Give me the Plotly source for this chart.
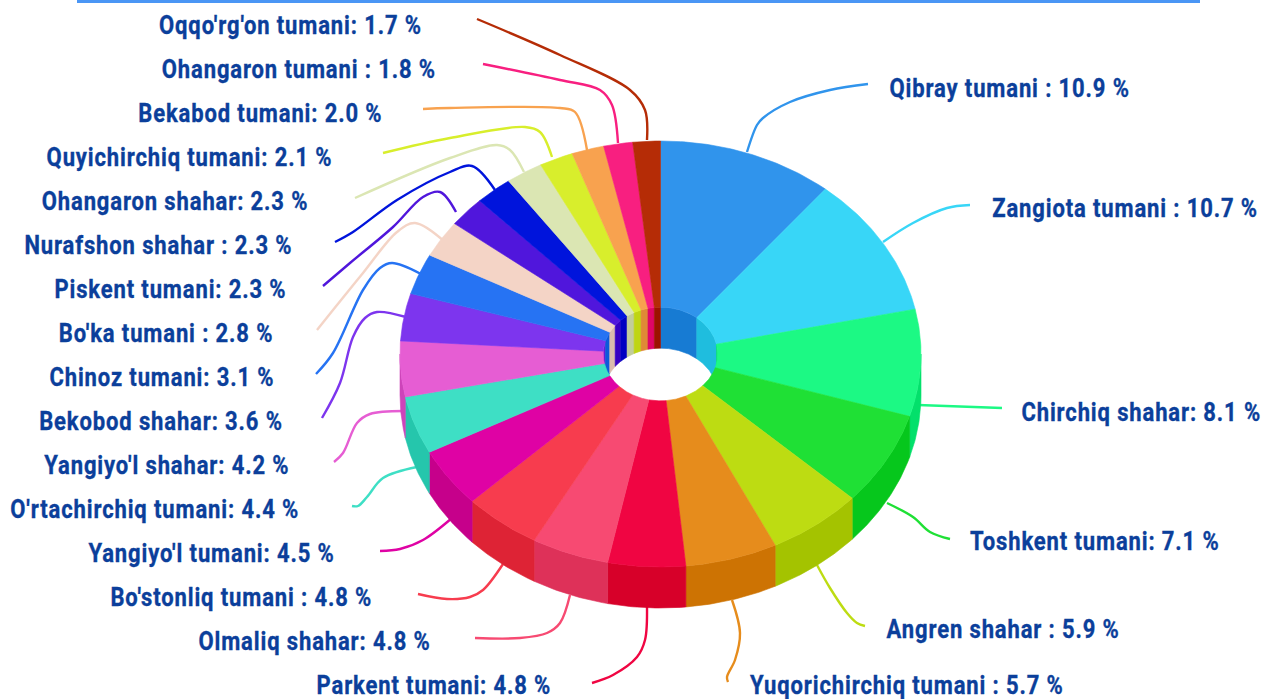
import numpy as np
import plotly.graph_objects as go

names = ["Qibray tumani :", "Zangiota tumani :", "Chirchiq shahar:", "Toshkent tumani:", "Angren shahar :",
         "Yuqorichirchiq tumani :", "Parkent tumani:", "Olmaliq shahar:", "Bo'stonliq tumani :", "Yangiyo'l tumani:",
         "O'rtachirchiq tumani:", "Yangiyo'l shahar:", "Bekobod shahar:", "Chinoz tumani:", "Bo'ka tumani :",
         "Piskent tumani:", "Nurafshon shahar :", "Ohangaron shahar:", "Quyichirchiq tumani:", "Bekabod tumani:",
         "Ohangaron tumani :", "Oqqo'rg'on tumani:"]
values = [10.9, 10.7, 8.1, 7.1, 5.9, 5.7, 4.8, 4.8, 4.8, 4.5, 4.4, 4.2, 3.6, 3.1, 2.8, 2.3, 2.3, 2.3, 2.1, 2.0, 1.8, 1.7]
colors = ["#3094EC", "#38D6F7", "#1CF984", "#1FE035", "#BDDC12", "#E68C1C", "#F00542", "#F74A72", "#F73C4E", "#DF02A4",
          "#3EDFC5", "#E65DD3", "#7D35EE", "#2673F3", "#F4D4C6", "#5016DC", "#0014DC", "#DBE6B3", "#D8EE2C", "#F8A24F",
          "#F81F80", "#B52C06"]
label_left = [889, 992, 1021, 970, 886, 750, 316, 198, 110, 88, 10, 44, 39, 49, 58, 54, 24, 41, 46, 138, 161, 159]
label_right = [1129, 1258, 1261, 1219, 1120, 1063, 551, 431, 372, 334, 299, 289, 283, 274, 273, 286, 292, 308, 333, 382, 436, 422]
label_y = [88, 208, 412, 541, 629, 685, 685, 641, 597, 553, 509, 465, 421, 377, 333, 289, 245, 201, 157, 113, 69, 25]

leaders = [
    [(747, 152), (757, 125), (763, 118), (790, 102), (830, 90), (868, 84)],
    [(883, 242), (913, 223), (947, 208), (970, 205)],
    [(918, 405), (1002, 408)],
    [(887, 503), (913, 517), (930, 532), (950, 539)],
    [(817, 565), (830, 588), (847, 613), (857, 623), (865, 626)],
    [(732, 600), (740, 633), (735, 660), (727, 677), (728, 682)],
    [(647, 606), (645, 640), (637, 657), (613, 675), (592, 683)],
    [(570, 595), (560, 623), (547, 633), (520, 638), (475, 638)],
    [(503, 564), (483, 590), (470, 597), (447, 599), (418, 594)],
    [(452, 518), (423, 540), (400, 549), (380, 551)],
    [(417, 467), (383, 478), (367, 497), (358, 506), (352, 506)],
    [(404, 411), (370, 414), (357, 423), (343, 453), (334, 462)],
    [(406, 317), (377, 312), (365, 318), (353, 337), (340, 383), (322, 418)],
    [(421, 274), (392, 263), (380, 268), (363, 290), (333, 353), (316, 374)],
    [(445, 242), (415, 223), (397, 232), (363, 273), (333, 310), (317, 330)],
    [(456, 212), (440, 192), (423, 197), (393, 227), (350, 263), (323, 286)],
    [(495, 190), (472, 166), (450, 172), (397, 200), (353, 232), (335, 242)],
    [(524, 172), (510, 150), (497, 145), (450, 158), (355, 198)],
    [(552, 157), (540, 132), (525, 127), (450, 138), (383, 153)],
    [(587, 150), (575, 112), (560, 108), (450, 108), (423, 109)],
    [(618, 143), (612, 105), (600, 90), (560, 80), (483, 64)],
    [(647, 140), (645, 110), (630, 90), (560, 55), (477, 19)],
]

CX, CY, RX, RY, DEPTH, HOLE = 660.5, 354, 260.5, 213, 41, 0.22


def darker(c, d=25):
    r, g, b = [int(c[i:i + 2], 16) for i in (1, 3, 5)]
    return "#%02X%02X%02X" % (max(r - d, 0), max(g - d, 0), max(b - d, 0))


def arc(a0, a1, scale=1.0, dy=0.0):
    t = np.linspace(a0, a1, max(int(abs(a1 - a0) * 90) + 2, 3))
    return CX + RX * scale * np.sin(t), CY - RY * scale * np.cos(t) + dy


def band(xa, ya, xb, yb):
    return np.r_[xa, xb[::-1], xa[0]], np.r_[ya, yb[::-1], ya[0]]


fig = go.Figure()


def poly(x, y, c):
    fig.add_trace(go.Scatter(x=x, y=y, mode="lines", fill="toself", fillcolor=c,
                             line=dict(color=c, width=0.6), hoverinfo="skip", showlegend=False))


for path, c in zip(leaders, colors):
    fig.add_trace(go.Scatter(x=[p[0] for p in path], y=[p[1] for p in path], mode="lines",
                             line=dict(color=c, width=2.4, shape="spline", smoothing=1),
                             hoverinfo="skip", showlegend=False))

edges = np.r_[0, np.cumsum(values)] / sum(values) * 2 * np.pi

# outer wall: front half of the ring
for a0, a1, c in zip(edges[:-1], edges[1:], colors):
    lo, hi = max(a0, np.pi / 2), min(a1, 3 * np.pi / 2)
    if hi > lo:
        x0, y0 = arc(lo, hi)
        x1, y1 = arc(lo, hi, dy=DEPTH)
        poly(*band(x0, y0, x1, y1), darker(c))

# inner wall: far half of the hole
for a0, a1, c in zip(edges[:-1], edges[1:], colors):
    for lo, hi in ((a0, min(a1, np.pi / 2)), (max(a0, 3 * np.pi / 2), a1)):
        if hi > lo:
            x0, y0 = arc(lo, hi, HOLE)
            x1, y1 = arc(lo, hi, HOLE, dy=DEPTH)
            poly(*band(x0, y0, x1, y1), darker(c))

# top face
for a0, a1, c in zip(edges[:-1], edges[1:], colors):
    x0, y0 = arc(a0, a1)
    x1, y1 = arc(a0, a1, HOLE)
    poly(*band(x0, y0, x1, y1), c)

annotations = []
for n, v, l, r, y in zip(names, values, label_left, label_right, label_y):
    annotations.append(dict(x=(l + r) / 2, y=y, xref="x", yref="y", text=f"{n} {v:.1f} %", showarrow=False,
                            xanchor="center", yanchor="middle", align="center",
                            font=dict(family="Roboto", size=25, color="#0B3F9B", weight=700)))

fig.update_layout(
    width=1264, height=699, margin=dict(l=0, r=0, t=0, b=0), paper_bgcolor="white", plot_bgcolor="white",
    xaxis=dict(range=[0, 1264], visible=False, fixedrange=True),
    yaxis=dict(range=[699, 0], visible=False, fixedrange=True),
    annotations=annotations, showlegend=False,
    shapes=[dict(type="rect", xref="x", yref="y", x0=77, x1=1200, y0=-2, y1=3, fillcolor="#4A96F5", line_width=0)],
)

post = """
document.body.style.margin = '0';
document.querySelectorAll('.annotation-text').forEach(function (t) {
  t.style.letterSpacing = '1px';
  t.style.stroke = '#0B3F9B';
  t.style.strokeWidth = '0.35px';
  t.style.transformBox = 'fill-box';
  t.style.transformOrigin = 'center';
  t.style.transform = 'scaleX(0.88)';
});
"""
fig.write_html("out.html", config=dict(displayModeBar=False), post_script=post)
